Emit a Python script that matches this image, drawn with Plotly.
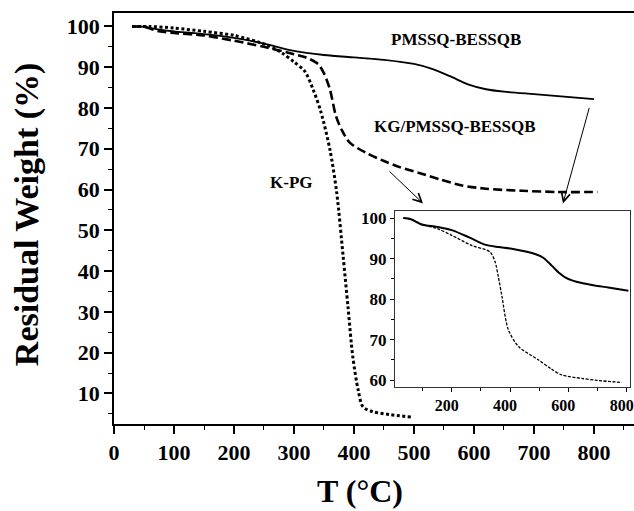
import plotly.graph_objects as go

# PMSSQ-BESSQB (solid)
t_pm = [30, 50, 75, 100, 150, 200, 250, 300, 350, 400, 450, 500, 530, 560, 590, 620, 650, 700, 750, 800]
w_pm = [100, 99.9, 99.2, 98.8, 98.1, 97.2, 95.8, 94.0, 93.0, 92.4, 91.8, 90.8, 89.6, 87.8, 85.8, 84.6, 84.0, 83.4, 82.8, 82.2]

# KG/PMSSQ-BESSQB (dashed)
t_kg = [30, 50, 75, 100, 150, 200, 250, 300, 320, 340, 350, 360, 370, 380, 393, 420, 450, 476, 510, 545, 580, 620, 680, 740, 806]
w_kg = [100, 99.9, 98.8, 98.4, 97.8, 96.5, 95.0, 93.2, 92.4, 90.8, 88.5, 84.5, 78.0, 74.5, 71.5, 69.0, 67.0, 65.5, 64.0, 62.4, 61.0, 60.2, 59.7, 59.4, 59.4]

# K-PG (dotted)
t_kp = [30, 60, 100, 150, 200, 254, 280, 300, 318, 332, 345, 360, 371, 382, 390, 398, 407, 415, 432, 460, 495]
w_kp = [100, 100, 99.6, 98.8, 97.8, 95.5, 93.5, 91.3, 89.0, 84.5, 79.0, 69.7, 59.5, 43.5, 31.2, 19.0, 10.8, 6.7, 5.5, 4.8, 4.2]

# inset curves
t_in_pm = [34, 60, 97, 150, 200, 260, 314, 360, 406, 486, 515, 543, 570, 589, 615, 646, 690, 737, 806]
w_in_pm = [100.1, 99.8, 98.5, 97.9, 97.1, 95.3, 93.5, 92.9, 92.5, 91.2, 90.2, 88.3, 86.4, 85.4, 84.6, 84.0, 83.4, 82.9, 82.1]
t_in_kg = [34, 60, 97, 150, 200, 269, 331, 349, 360, 372, 394, 429, 497, 540, 577, 646, 700, 783]
w_in_kg = [100.1, 99.8, 98.5, 97.5, 95.8, 93.3, 91.7, 89.2, 85.5, 80.8, 72.5, 68.3, 65.0, 62.8, 61.25, 60.4, 59.9, 59.4]

x_ticks = [0, 100, 200, 300, 400, 500, 600, 700, 800]
y_ticks = [10, 20, 30, 40, 50, 60, 70, 80, 90, 100]
inset_x_ticks = [200, 400, 600, 800]
inset_y_ticks = [60, 70, 80, 90, 100]

FONT = "Liberation Serif"

fig = go.Figure()
fig.add_trace(go.Scatter(x=t_pm, y=w_pm, mode="lines", line=dict(color="black", width=1.8, shape="spline", smoothing=0.8), xaxis="x", yaxis="y"))
fig.add_trace(go.Scatter(x=t_kg, y=w_kg, mode="lines", line=dict(color="black", width=2.6, dash="9px,4px", shape="spline", smoothing=0.8), xaxis="x", yaxis="y"))
fig.add_trace(go.Scatter(x=t_kp, y=w_kp, mode="lines", line=dict(color="black", width=3, dash="3px,2.5px", shape="spline", smoothing=0.8), xaxis="x", yaxis="y"))

# inset
fig.add_trace(go.Scatter(x=t_in_pm, y=w_in_pm, mode="lines", line=dict(color="black", width=2, shape="spline", smoothing=0.8), xaxis="x2", yaxis="y2"))
fig.add_trace(go.Scatter(x=t_in_kg, y=w_in_kg, mode="lines", line=dict(color="black", width=1.3, dash="3px,1.5px", shape="spline", smoothing=0.8), xaxis="x2", yaxis="y2"))

tickfont_main = dict(family=FONT, size=22, color="black", weight="bold")
tickfont_inset = dict(family=FONT, size=17, color="black", weight="bold")

fig.update_layout(
    width=634, height=511,
    margin=dict(l=114, r=0, t=13, b=87, autoexpand=False),
    paper_bgcolor="white", plot_bgcolor="white",
    showlegend=False,
    xaxis=dict(domain=[0, 1], range=[0, 866.7], tickvals=x_ticks, ticks="outside", ticklen=8, tickwidth=1.5,
               tickcolor="black", showline=True, linecolor="black", linewidth=1.5, mirror=True, automargin=False,
               showgrid=False, zeroline=False, tickfont=tickfont_main,
               minor=dict(ticks="outside", ticklen=4, tickwidth=1.2, dtick=50, tickcolor="black", showgrid=False)),
    yaxis=dict(domain=[0, 1], range=[2.5, 103.3], tickvals=y_ticks, ticks="outside", ticklen=8, tickwidth=1.5,
               tickcolor="black", showline=True, linecolor="black", linewidth=1.5, automargin=False,
               showgrid=False, zeroline=False, tickfont=tickfont_main,
               minor=dict(ticks="outside", ticklen=4, tickwidth=1.2, dtick=5, tick0=0, tickcolor="black", showgrid=False)),
    xaxis2=dict(domain=[0.5404, 0.9923], anchor="y2", range=[5.6, 811.4], tickvals=inset_x_ticks, ticks="outside",
                ticklen=4, tickwidth=1, tickcolor="black", showline=True, linecolor="#333", linewidth=1, mirror=True,
                showgrid=False, zeroline=False, tickfont=dict(family=FONT, size=16, color="black", weight="bold"),
                ticklabeloverflow="allow", ticklabelshift=-5, automargin=False,
                minor=dict(ticks="outside", ticklen=3, dtick=100, tick0=0, tickcolor="black", showgrid=False)),
    yaxis2=dict(domain=[0.0893, 0.519], anchor="x2", range=[58.2, 101.9], tickvals=inset_y_ticks, ticks="outside",
                ticklen=4, tickwidth=1, tickcolor="black", showline=True, linecolor="#333", linewidth=1, mirror=True,
                showgrid=False, zeroline=False, tickfont=tickfont_inset, automargin=False,
                minor=dict(ticks="outside", ticklen=3, dtick=5, tick0=0, tickcolor="black", showgrid=False)),
)

lab = dict(family=FONT, size=17, color="black", weight="bold")
fig.add_annotation(x=570, y=96.7, xref="x", yref="y", text="PMSSQ-BESSQB", showarrow=False, font=lab)
fig.add_annotation(x=568, y=75.5, xref="x", yref="y", text="KG/PMSSQ-BESSQB", showarrow=False, font=lab)
fig.add_annotation(x=296, y=61.7, xref="x", yref="y", text="K-PG", showarrow=False, font=lab)

# arrows
fig.add_annotation(x=515, y=56.6, ax=456.7, ay=64.8, xref="x", yref="y", axref="x", ayref="y", text="",
                   showarrow=True, arrowhead=5, arrowsize=1.7, arrowwidth=1, arrowcolor="black", standoff=0)
fig.add_annotation(x=748.3, y=56.6, ax=792.8, ay=80.4, xref="x", yref="y", axref="x", ayref="y", text="",
                   showarrow=True, arrowhead=5, arrowsize=1.7, arrowwidth=1, arrowcolor="black", standoff=0)

# axis titles
title_font = dict(family=FONT, size=34, color="black", weight="bold")
fig.add_annotation(x=-0.167, y=0.511, xref="paper", yref="paper", text="Residual Weight (%)", textangle=-90,
                   showarrow=False, font=title_font, xanchor="center", yanchor="middle")
fig.add_annotation(x=0.473, y=-0.162, xref="paper", yref="paper", text="T (°C)",
                   showarrow=False, font=dict(family=FONT, size=32, color="black", weight="bold"),
                   xanchor="center", yanchor="middle")

fig.write_html("out.html")
